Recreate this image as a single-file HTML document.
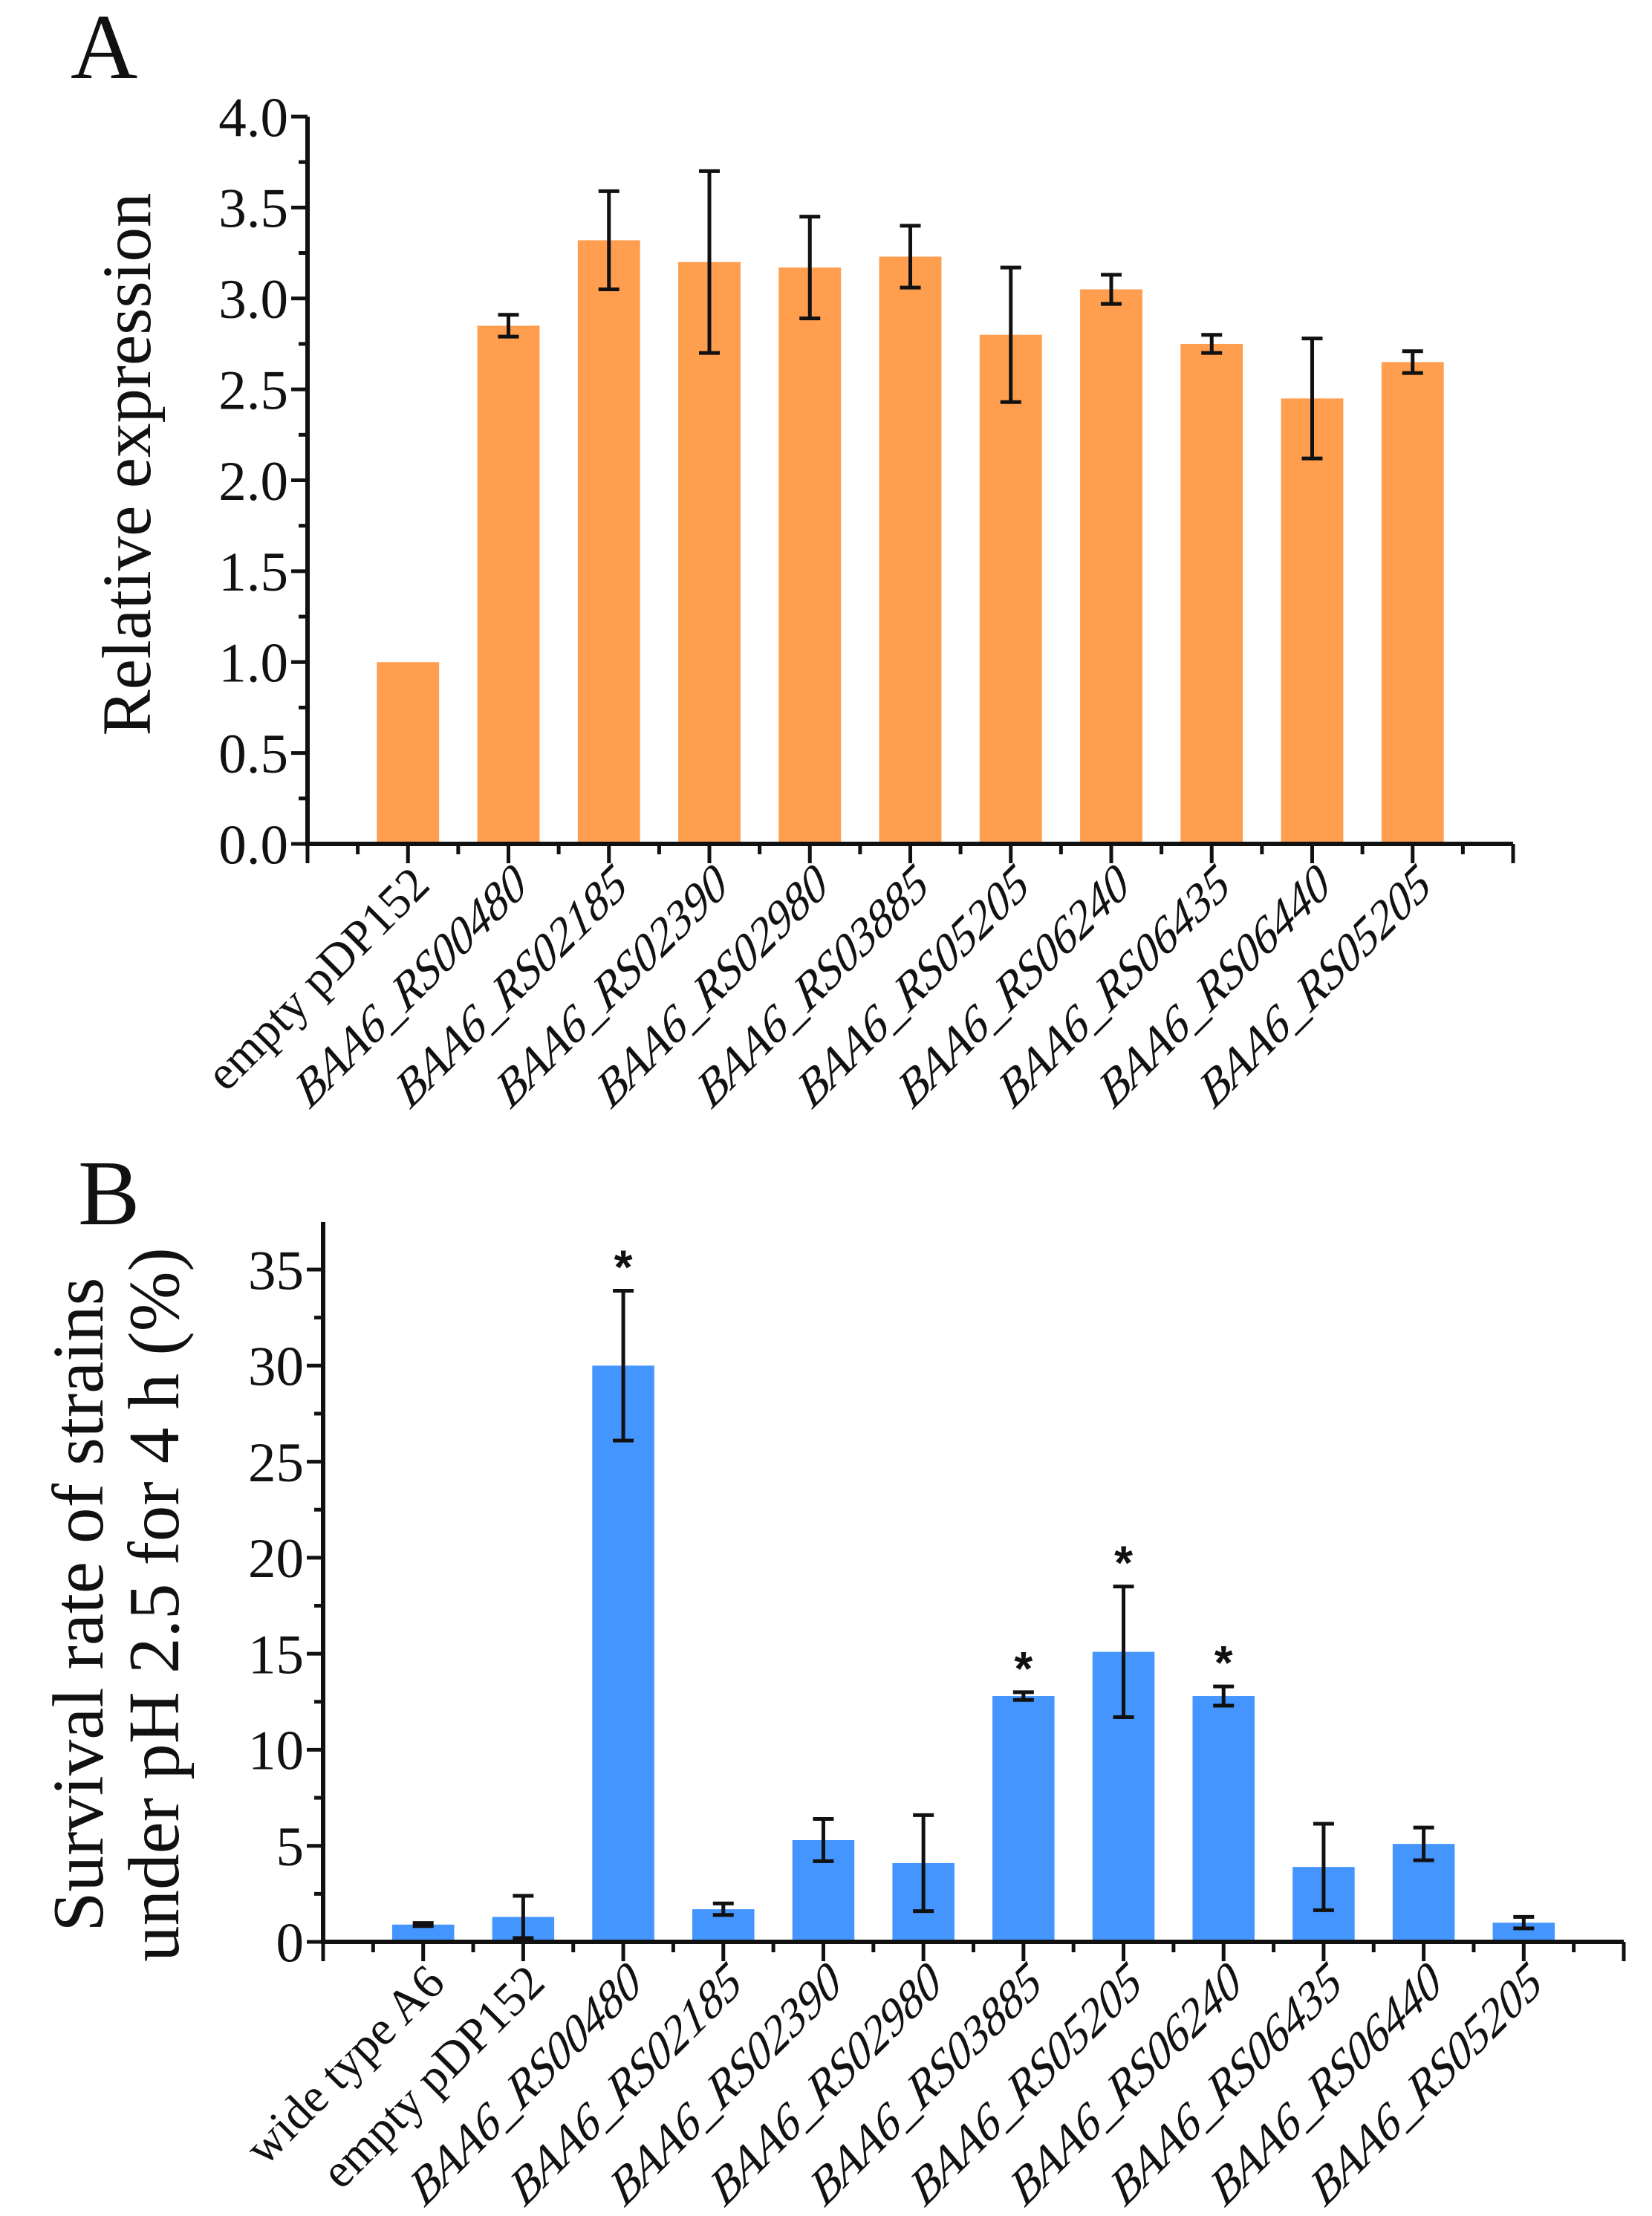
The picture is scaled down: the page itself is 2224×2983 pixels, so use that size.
<!DOCTYPE html>
<html><head><meta charset="utf-8"><style>
html,body{margin:0;padding:0;background:#fff}
svg{display:block}
text{font-family:"Liberation Serif",serif;fill:#111}
</style></head><body>
<svg id="fig" width="2224" height="2983" viewBox="0 0 2224 2983" xmlns="http://www.w3.org/2000/svg">
<text x="95" y="105" font-size="125">A</text>
<text x="105" y="1648" font-size="125">B</text>
<g id="chartA"></g>
<g id="chartB"></g>
</svg>
<script>
const catsA = ["empty pDP152","BAA6_RS00480","BAA6_RS02185","BAA6_RS02390","BAA6_RS02980","BAA6_RS03885","BAA6_RS05205","BAA6_RS06240","BAA6_RS06435","BAA6_RS06440","BAA6_RS05205"];
const valsA = [1.0,2.85,3.32,3.20,3.17,3.23,2.80,3.05,2.75,2.45,2.65];
const errA = [0,0.06,0.27,0.50,0.28,0.17,0.37,0.08,0.05,0.33,0.06];
const ticksA = ["0.0","0.5","1.0","1.5","2.0","2.5","3.0","3.5","4.0"];
const catsB = ["wide type A6","empty pDP152","BAA6_RS00480","BAA6_RS02185","BAA6_RS02390","BAA6_RS02980","BAA6_RS03885","BAA6_RS05205","BAA6_RS06240","BAA6_RS06435","BAA6_RS06440","BAA6_RS05205"];
const valsB = [0.9,1.3,30.0,1.7,5.3,4.1,12.8,15.1,12.8,3.9,5.1,1.0];
const errB = [0.08,1.1,3.9,0.3,1.1,2.5,0.2,3.4,0.5,2.25,0.85,0.3];
const starB = [0,0,1,0,0,0,1,1,1,0,0,0];
const ticksB = ["0","5","10","15","20","25","30","35"];

const NS="http://www.w3.org/2000/svg";
function mk(parent,tag,attrs,txt){const e=document.createElementNS(NS,tag);for(const k in attrs)e.setAttribute(k,attrs[k]);if(txt!==undefined)e.textContent=txt;parent.appendChild(e);return e;}

function drawChart(g,o){
  const n=o.cats.length;
  const step=(o.xEnd-o.x0)/(n+1);
  const xs=i=>o.x0+step*(i+1);
  const ys=v=>o.y0-(v/o.yMax)*(o.y0-o.yTop);
  const bw=step*0.62;
  for(let i=0;i<n;i++){
    const r=mk(g,'rect',{x:xs(i)-bw/2,y:ys(o.vals[i]),width:bw,height:o.y0-ys(o.vals[i]),fill:o.color});
    
    
    if(o.errs[i]>0){
      const t=ys(o.vals[i]+o.errs[i]),b=ys(o.vals[i]-o.errs[i]);
      const eg=mk(g,'g',{stroke:'#111','stroke-width':5});
      
      
      mk(eg,'line',{x1:xs(i),x2:xs(i),y1:t,y2:b});
      mk(eg,'line',{x1:xs(i)-14,x2:xs(i)+14,y1:t,y2:t});
      mk(eg,'line',{x1:xs(i)-14,x2:xs(i)+14,y1:b,y2:b});
    }
    if(o.stars&&o.stars[i]){
      const s=mk(g,'text',{x:xs(i),y:ys(o.vals[i]+o.errs[i])-10,'text-anchor':'middle','font-size':64,'font-weight':'bold',style:'font-family:"Liberation Sans",sans-serif'},'*');
      
      
    }
    const it=i>=o.plainCount;
    const lbl=mk(g,'text',{transform:`translate(${xs(i)+16},${o.y0+42}) rotate(-45)`+(it?' skewX(-15)':''),'text-anchor':'end','font-size':65,style:'font-style:'+(it?'italic':'normal'),dy:'0.35em'},o.cats[i]);
    
    
  }
  const ax=mk(g,'g',{stroke:'#111','stroke-width':6,fill:'none'});
  
  
  mk(ax,'line',{x1:o.x0,x2:o.x0,y1:o.axisTop,y2:o.y0+3});
  mk(ax,'line',{x1:o.x0-3,x2:o.xEnd,y1:o.y0,y2:o.y0});
  for(let k=0;k<=2*(n+1);k++){
    const x=o.x0+step*k/2;
    mk(ax,'line',{x1:x,x2:x,y1:o.y0,y2:o.y0+(k%2===0?26:14),'stroke-width':5});
  }
  const tickStep=o.yMax/(o.ticks.length-1);
  for(let k=0;k<o.ticks.length;k++){
    const y=ys(k*tickStep);
    mk(ax,'line',{x1:o.x0-22,x2:o.x0,y1:y,y2:y,'stroke-width':5});
    const tl=mk(g,'text',{x:o.x0-26,y:y,'text-anchor':'end','font-size':75,dy:'0.35em'},o.ticks[k]);
    
    
    const ym=ys((k+0.5)*tickStep);
    if(ym>=o.axisTop) mk(ax,'line',{x1:o.x0-12,x2:o.x0,y1:ym,y2:ym,'stroke-width':5});
  }
}

drawChart(document.getElementById('chartA'),{cats:catsA,vals:valsA,errs:errA,ticks:ticksA,yMax:4,x0:414,xEnd:2037,y0:1136,yTop:157,axisTop:157,color:'#FF9E4F',plainCount:1});
drawChart(document.getElementById('chartB'),{cats:catsB,vals:valsB,errs:errB,stars:starB,ticks:ticksB,yMax:35,x0:435,xEnd:2186,y0:2614,yTop:1709,axisTop:1645,color:'#4595FF',plainCount:2});

const svg=document.getElementById('fig');
const ta=mk(svg,'text',{transform:'translate(202,625) rotate(-90)','text-anchor':'middle','font-size':93},'Relative expression');


const tb=mk(svg,'text',{transform:'translate(0,2160) rotate(-90)','text-anchor':'middle','font-size':97});


mk(tb,'tspan',{x:0,y:138},'Survival rate of strains');
mk(tb,'tspan',{x:0,y:240},'under pH 2.5 for 4 h (%)');
</script>
</body></html>
